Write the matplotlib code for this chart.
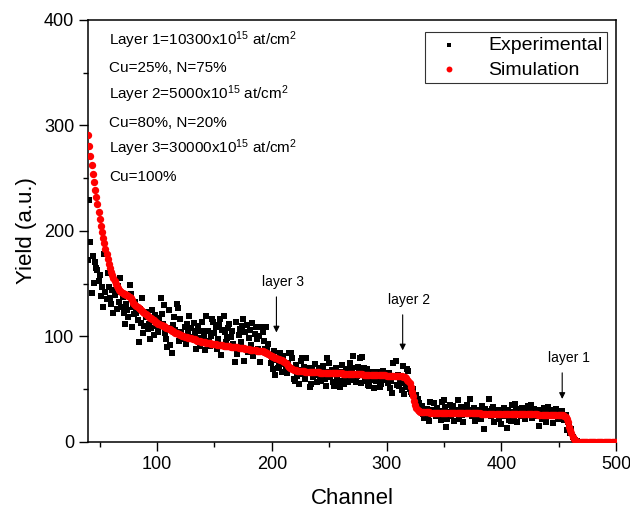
import matplotlib
matplotlib.use("Agg")
from matplotlib import pyplot as plt

plt.rcParams["font.family"] = ["Liberation Sans", "DejaVu Sans"]
plt.rcParams["mathtext.fontset"] = "custom"
plt.rcParams["mathtext.rm"] = "Liberation Sans"
plt.rcParams["mathtext.it"] = "Liberation Sans:italic"
plt.rcParams["mathtext.bf"] = "Liberation Sans:bold"

# 実験データ（チャンネル 40〜470、1チャンネルごと）
exp_channel = list(range(40, 471))
exp_yield = [
    172, 229, 189, 141, 176, 151, 170, 165, 163, 152,
    158, 138, 147, 128, 178, 142, 135, 160, 147, 136,
    131, 144, 122, 139, 142, 126, 148, 133, 155, 128,
    137, 122, 112, 131, 125, 118, 149, 140, 109, 128,
    121, 133, 122, 115, 95, 126, 113, 136, 103, 110,
    118, 123, 107, 112, 97, 108, 125, 101, 120, 114,
    110, 104, 117, 136, 121, 112, 130, 103, 97, 90,
    125, 92, 108, 84, 111, 118, 106, 131, 127, 96,
    116, 104, 97, 100, 109, 93, 112, 105, 119, 99,
    108, 97, 113, 102, 88, 105, 110, 91, 98, 114,
    105, 99, 87, 119, 105, 96, 91, 100, 116, 114,
    103, 109, 88, 97, 111, 116, 82, 106, 119, 104,
    95, 98, 108, 112, 99, 105, 93, 89, 76, 114,
    83, 101, 107, 95, 110, 116, 77, 104, 111, 85,
    98, 106, 92, 113, 81, 102, 109, 97, 88, 100,
    76, 109, 104, 96, 88, 109, 88, 93, 82, 75,
    80, 69, 86, 63, 78, 70, 72, 84, 74, 66,
    81, 66, 71, 65, 75, 84, 70, 84, 79, 60,
    58, 73, 62, 68, 55, 77, 79, 64, 71, 60,
    79, 66, 70, 52, 55, 68, 61, 65, 74, 57,
    63, 70, 62, 58, 67, 72, 60, 53, 79, 66,
    75, 61, 68, 57, 53, 64, 70, 60, 58, 52,
    66, 73, 58, 55, 61, 69, 57, 65, 75, 62,
    70, 81, 59, 57, 62, 71, 66, 79, 56, 80,
    70, 61, 58, 69, 54, 53, 64, 59, 66, 51,
    62, 58, 59, 66, 52, 55, 59, 67, 63, 59,
    61, 56, 65, 51, 58, 46, 75, 62, 77, 54,
    63, 53, 58, 49, 72, 45, 56, 52, 69, 67,
    50, 47, 45, 50, 43, 39, 44, 41, 37, 33,
    31, 34, 26, 23, 28, 31, 25, 20, 38, 27,
    30, 37, 29, 24, 32, 26, 29, 21, 38, 25,
    40, 33, 14, 22, 28, 35, 24, 31, 34, 20,
    27, 30, 40, 22, 29, 33, 25, 19, 31, 28,
    35, 26, 30, 41, 24, 29, 32, 20, 27, 23,
    30, 26, 22, 34, 28, 12, 31, 25, 29, 41,
    27, 24, 31, 33, 19, 28, 25, 30, 22, 26,
    17, 29, 32, 24, 27, 13, 30, 21, 20, 35,
    28, 23, 36, 31, 19, 26, 29, 24, 32, 27,
    30, 22, 26, 34, 28, 25, 35, 23, 31, 27,
    24, 29, 26, 15, 30, 22, 27, 32, 25, 19,
    28, 33, 24, 30, 26, 18, 29, 25, 31, 22,
    27, 23, 26, 29, 24, 21, 25, 11, 19, 16,
    8, 12, 5, 3, 2, 0, 1, 0, 0, 0,
    0,
]

# シミュレーション（チャンネル 40〜500）
sim_channel = list(range(40, 501))
sim_yield = [
    291, 280, 271, 262, 254, 246, 239, 232, 225, 218,
    211, 205, 199, 193, 188, 183, 178, 173, 169, 165,
    161, 158, 155, 152, 150, 148, 146, 144, 143, 142,
    141, 140, 140, 139, 139, 138, 137, 136, 134, 132,
    131, 130, 129, 128, 127, 126, 125, 124, 123, 122,
    121, 120, 119, 118, 117, 117, 116, 115, 114, 114,
    113, 112, 112, 111, 111, 110, 109.5, 109, 108, 108,
    107, 106.5, 106, 105.5, 105, 104, 103.5, 103, 102.5, 102,
    101.5, 101, 100.5, 100, 99.5, 99, 99, 98.5, 98, 98,
    98, 97.5, 97, 97, 96.5, 96, 96, 95.5, 95, 95,
    95, 94.5, 94.5, 94, 94, 93.5, 93.5, 93, 93, 92.5,
    92.5, 92.5, 92, 92, 92, 91.5, 91.5, 91.5, 91, 91,
    91, 90.5, 90.5, 90.5, 90, 90, 90, 89.5, 89.5, 89.5,
    89.5, 89, 89, 89, 88.5, 88.5, 88.5, 88, 88, 88,
    88, 87.5, 87.5, 87.5, 87, 87, 87, 86.5, 86.5, 86.5,
    86.5, 86, 86, 85.5, 85, 84.5, 84, 83, 82, 81.5,
    81, 80.5, 80, 79.5, 79, 78.5, 78.5, 78, 78, 77.5,
    77, 76, 75, 73.5, 72, 71, 70, 69.5, 69, 68.5,
    68, 67.8, 67.6, 67.4, 67.2, 67, 67, 66.8, 66.8, 66.6,
    66.6, 66.5, 66.4, 66.3, 66.2, 66.1, 66, 66, 65.9, 65.9,
    65.8, 65.8, 65.7, 65.7, 65.6, 65.6, 65.5, 65.5, 65.4, 65.4,
    65.3, 65.3, 65.2, 65.2, 65.1, 65.1, 65, 65, 64.9, 64.9,
    64.8, 64.8, 64.7, 64.7, 64.6, 64.6, 64.5, 64.5, 64.4, 64.4,
    64.3, 64.3, 64.2, 64.2, 64.1, 64.1, 64, 64, 63.9, 63.9,
    63.8, 63.8, 63.7, 63.7, 63.6, 63.6, 63.5, 63.5, 63.4, 63.4,
    63.3, 63.3, 63.2, 63.2, 63.1, 63.1, 63, 63, 62.9, 62.9,
    62.8, 62.8, 62.7, 62.7, 62.6, 62.6, 62.5, 62.5, 62.4, 62.4,
    62.3, 62.2, 62.1, 62, 61.8, 61.5, 61, 60.3, 59, 57.5,
    55.5, 52, 47.5, 43, 39, 35, 32, 30, 29, 28.5,
    28.2, 28, 28, 27.9, 27.9, 27.8, 27.8, 27.8, 27.7, 27.7,
    27.7, 27.7, 27.6, 27.6, 27.6, 27.6, 27.5, 27.5, 27.5, 27.5,
    27.5, 27.5, 27.4, 27.4, 27.4, 27.4, 27.4, 27.3, 27.3, 27.3,
    27.3, 27.3, 27.2, 27.2, 27.2, 27.2, 27.2, 27.1, 27.1, 27.1,
    27.1, 27.1, 27, 27, 27, 27, 27, 26.9, 26.9, 26.9,
    26.9, 26.9, 26.8, 26.8, 26.8, 26.8, 26.8, 26.7, 26.7, 26.7,
    26.7, 26.7, 26.6, 26.6, 26.6, 26.6, 26.6, 26.5, 26.5, 26.5,
    26.5, 26.5, 26.4, 26.4, 26.4, 26.4, 26.4, 26.3, 26.3, 26.3,
    26.3, 26.3, 26.2, 26.2, 26.2, 26.2, 26.2, 26.1, 26.1, 26.1,
    26.1, 26.1, 26, 26, 26, 26, 26, 25.9, 25.9, 25.9,
    25.9, 25.9, 25.8, 25.8, 25.8, 25.8, 25.8, 25.7, 25.7, 25.7,
    25.7, 25.7, 25.6, 25.6, 25.6, 25.6, 25.6, 25.5, 25.5, 25.5,
    25.5, 25.4, 25.3, 25.2, 25, 24.6, 23.8, 22, 18.5, 14.5,
    11, 8, 5, 3, 1.5, 0.5, 0, 0, 0, 0,
    0, 0, 0, 0, 0, 0, 0, 0, 0, 0,
    0, 0, 0, 0, 0, 0, 0, 0, 0, 0,
    0, 0, 0, 0, 0, 0, 0, 0, 0, 0,
    0,
]

# 層の説明テキスト
info_lines = [
    "Layer 1=10300x10$^{15}$ at/cm$^{2}$",
    "Cu=25%, N=75%",
    "Layer 2=5000x10$^{15}$ at/cm$^{2}$",
    "Cu=80%, N=20%",
    "Layer 3=30000x10$^{15}$ at/cm$^{2}$",
    "Cu=100%",
]

# 矢印ラベル: (テキスト, チャンネル, 矢印先端の値, 矢印根元の値)
layer_marks = [
    ("layer 3", 204, 101, 140),
    ("layer 2", 314, 84, 123),
    ("layer 1", 453, 38, 68),
]

fig = plt.figure(figsize=(6.3, 5.09), dpi=100)
ax = fig.add_axes([0.14, 0.132, 0.838, 0.829])

ax.scatter(exp_channel, exp_yield, marker="s", s=16, color="black",
           linewidths=0, label="Experimental", zorder=2)
ax.scatter(sim_channel, sim_yield, marker="o", s=28, color="#ff0000",
           linewidths=0, label="Simulation", zorder=3)

ax.set_xlim(40, 500)
ax.set_ylim(0, 400)
ax.set_xticks([100, 200, 300, 400, 500])
ax.set_xticks([50, 150, 250, 350, 450], minor=True)
ax.set_yticks([0, 100, 200, 300, 400])
ax.set_yticks([50, 150, 250, 350], minor=True)
ax.tick_params(which="major", direction="out", length=6.5, width=1.0,
               labelsize=13, top=False, right=False)
ax.tick_params(which="minor", direction="out", length=3.5, width=1.0,
               top=False, right=False)
for sp in ax.spines.values():
    sp.set_linewidth(1.1)

ax.set_xlabel("Channel", fontsize=16, labelpad=11)
ax.set_ylabel("Yield (a.u.)", fontsize=16, labelpad=5)

ys = [0.941, 0.877, 0.812, 0.747, 0.684, 0.619]
for txt, yy in zip(info_lines, ys):
    ax.text(0.04, yy, txt, transform=ax.transAxes, fontsize=11,
            va="baseline", ha="left")

for label, ch, tip, base in layer_marks:
    ax.annotate("", xy=(ch, tip), xytext=(ch, base),
                arrowprops=dict(arrowstyle="-|>", color="black", lw=0.8,
                                mutation_scale=9))
    ax.text(ch + 6, base + 5, label, fontsize=10, ha="center", va="bottom")

leg = ax.legend(loc="upper right", bbox_to_anchor=(0.983, 0.972),
                borderaxespad=0, fontsize=14, frameon=True, fancybox=False,
                edgecolor="black", handletextpad=1.0, markerscale=0.8,
                scatterpoints=1, borderpad=0.25, labelspacing=0.35)
leg.get_frame().set_linewidth(0.8)

fig.savefig("out.png", dpi=100)
